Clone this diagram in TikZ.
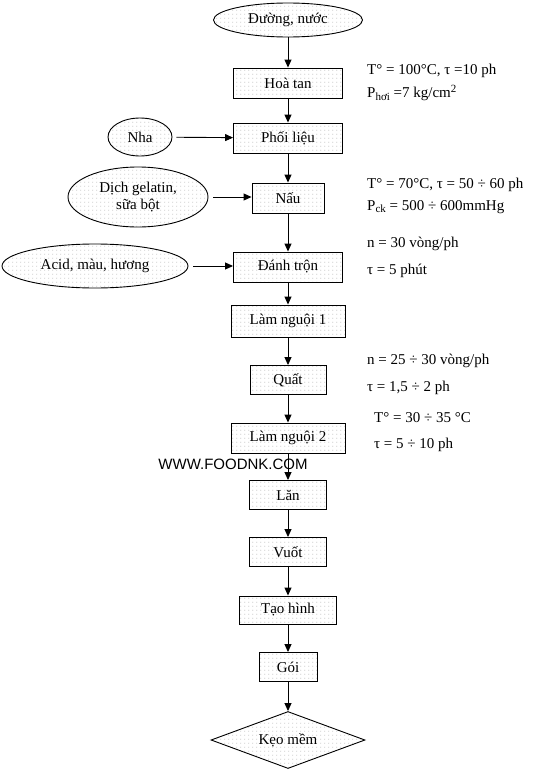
\documentclass[tikz,border=0pt]{standalone}
\usepackage{fontspec}
\setmainfont{Liberation Serif}
\newfontfamily\wwwfont{Liberation Sans}
\usetikzlibrary{shapes.geometric,arrows.meta,patterns}
\pgfdeclarepatternformonly{sparsedots}{\pgfpointorigin}{\pgfpoint{4pt}{4pt}}{\pgfpoint{4pt}{4pt}}{%
  \pgfpathcircle{\pgfpoint{1pt}{1pt}}{0.55pt}\pgfusepath{fill}}
\newcommand{\mysub}[1]{\raisebox{-0.35ex}{\fontsize{11}{11}\selectfont #1}}
\newcommand{\mysup}[1]{\raisebox{0.8ex}{\fontsize{11}{11}\selectfont #1}}
\begin{document}
\begin{tikzpicture}[x=1pt,y=-1pt,
  every node/.style={font=\fontsize{15}{17}\selectfont},
  dotfill/.style={preaction={fill=white},pattern=sparsedots,pattern color=gray!70},
  procbox/.style={draw,line width=0.9pt,rectangle,dotfill,inner sep=0pt,minimum height=30pt},
  inbox/.style={draw,line width=0.9pt,ellipse,dotfill,inner sep=0pt,align=center},
  outbox/.style={draw,line width=0.9pt,diamond,dotfill,inner sep=0pt,aspect=2.7},
  note/.style={anchor=west,inner sep=0pt},
  flow/.style={line width=0.9pt,-{Triangle[length=8pt,width=7pt]}}
]
\useasboundingbox (0,0) rectangle (549,771);

\node[inbox,minimum width=149pt,minimum height=34pt] (duong) at (288,20) {Đường, nước};
\node[procbox,minimum width=109pt] (hoatan) at (288,83) {Hoà tan};
\node[procbox,minimum width=109pt] (phoilieu) at (288,138) {Phối liệu};
\node[inbox,minimum width=64pt,minimum height=38pt] (nha) at (140,137) {Nha};
\node[procbox,minimum width=72pt] (nau) at (288,198) {Nấu};
\node[inbox,minimum width=140pt,minimum height=60pt] (dich) at (138,197) {Dịch gelatin,\\sữa bột};
\node[procbox,minimum width=109pt] (danhtron) at (288,267) {Đánh trộn};
\node[inbox,minimum width=186pt,minimum height=44pt] (acid) at (95,266) {Acid, màu, hương};
\node[procbox,minimum width=114pt,minimum height=32pt] (lamnguoi1) at (288,321) {Làm nguội 1};
\node[procbox,minimum width=76pt,minimum height=29pt] (quat) at (288,380) {Quất};
\node[procbox,minimum width=114pt] (lamnguoi2) at (288,438) {Làm nguội 2};
\node[procbox,minimum width=77pt,minimum height=29pt] (lan) at (288,495) {Lăn};
\node[procbox,minimum width=77pt,minimum height=29pt] (vuot) at (288,552) {Vuốt};
\node[procbox,minimum width=97pt,minimum height=28pt] (taohinh) at (288,610) {Tạo hình};
\node[procbox,minimum width=58pt,minimum height=29pt] (goi) at (288,667) {Gói};
\node[outbox,minimum width=154pt,minimum height=57pt] (keo) at (288,740) {Kẹo mềm};

\draw[flow] (duong) -- (hoatan);
\draw[flow] (hoatan) -- (phoilieu);
\draw[flow] (phoilieu) -- (nau);
\draw[flow] (nau) -- (danhtron);
\draw[flow] (danhtron) -- (lamnguoi1);
\draw[flow] (lamnguoi1) -- (quat);
\draw[flow] (quat) -- (lamnguoi2);
\draw[flow] (lamnguoi2) -- (lan);
\draw[flow] (lan) -- (vuot);
\draw[flow] (vuot) -- (taohinh);
\draw[flow] (taohinh) -- (goi);
\draw[flow] (goi) -- (keo);
\draw[flow,shorten <=4pt] (nha) -- (phoilieu);
\draw[flow,shorten <=5pt] (dich.east) -- (nau.west |- dich.east);
\draw[flow,shorten <=5pt] (acid.east) -- (danhtron.west |- acid.east);

\node[font=\wwwfont\fontsize{15}{17}\selectfont,inner sep=0pt] (www) at (233,464) {WWW.FOODNK.COM};

\node[note] (n1) at (367,71) {T° = 100°C, τ =10 ph};
\node[note] (n2) at (367,93) {P\mysub{hơi} =7 kg/cm\mysup{2}};
\node[note] (n3) at (367,185) {T° = 70°C, τ = 50 ÷ 60 ph};
\node[note] (n4) at (367,207) {P\mysub{ck} = 500 ÷ 600mmHg};
\node[note] (n5) at (367,244) {n = 30 vòng/ph};
\node[note] (n6) at (367,271) {τ = 5 phút};
\node[note] (n7) at (367,361) {n = 25 ÷ 30 vòng/ph};
\node[note] (n8) at (367,388) {τ = 1,5 ÷ 2 ph};
\node[note] (n9) at (374,418) {T° = 30 ÷ 35 °C};
\node[note] (n10) at (374,445) {τ = 5 ÷ 10 ph};
\end{tikzpicture}
\end{document}
